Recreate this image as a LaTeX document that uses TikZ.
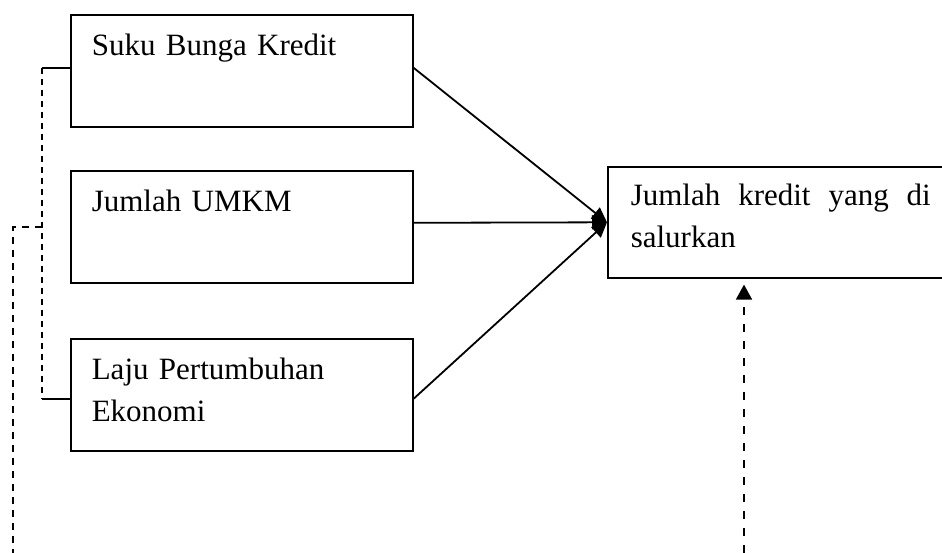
\documentclass[tikz,border=0pt]{standalone}
\usepackage{fontspec}
\setmainfont{Liberation Serif}
\usepackage{tikz}
\usetikzlibrary{arrows.meta,calc}

\tikzset{
  varbox/.style={draw, line width=1.6pt, anchor=north west,
    text width=300pt, inner xsep=21pt, inner ysep=0pt,
    text height=41pt, text depth=71pt, align=left,
    font=\fontsize{31}{42}\selectfont},
  mainarrow/.style={line width=1.8pt, -{Triangle[length=15pt,width=14pt]}},
  linkline/.style={line width=1.6pt},
  dashlink/.style={line width=1.5pt, dash pattern=on 6pt off 5pt},
}

\begin{document}
\begin{tikzpicture}[x=1pt, y=-1pt]
  \useasboundingbox (0,0) rectangle (942,553);
  \clip (0,0) rectangle (942,553);

  % ── Variabel bebas ─────────────────────────
  \node[varbox] (suku) at (70,14) {Suku Bunga Kredit};
  \node[varbox] (umkm) at (70,170) {Jumlah UMKM};
  \node[varbox] (laju) at (70,338) {Laju Pertumbuhan Ekonomi};

  % ── Variabel terikat ───────────────────────
  \node[varbox, inner xsep=23pt, text height=39pt, text depth=72pt,
        align=justify] (kredit) at (607,166)
    {Jumlah kredit yang di \mbox{salurkan}};

  % Panah utama
  \draw[mainarrow] ([yshift=3pt]suku.east) -- (kredit.west);
  \draw[mainarrow] ([yshift=4pt]umkm.east) -- (kredit.west);
  \draw[mainarrow] ([yshift=-4pt]laju.east) -- (kredit.west);

  % Kurung putus-putus kiri
  \draw[linkline] ([yshift=3pt]suku.west) -- ++(-28,0) coordinate (kta);
  \draw[linkline] ([yshift=-4pt]laju.west) -- ++(-28,0) coordinate (ktb);
  \draw[dashlink] (kta) -- (ktb);
  \coordinate (ktm) at (kta |- umkm.west);
  \coordinate (ujung) at (13,553);
  \draw[dashlink, dash pattern=on 7pt off 6pt] (ktm) -- (ujung |- ktm) -- (ujung);

  % Panah putus-putus bawah
  \coordinate (bawah) at (744,553);
  \draw[line width=1.8pt, dash pattern=on 8pt off 9pt,
        -{Triangle[length=15pt,width=16pt]}, shorten >=6pt]
    (bawah) -- (bawah |- kredit.south);
\end{tikzpicture}
\end{document}
